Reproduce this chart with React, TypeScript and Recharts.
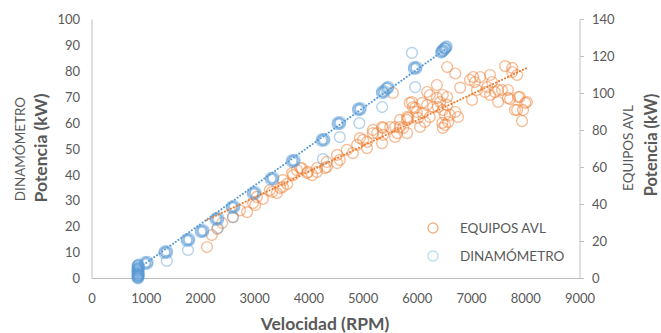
import React from "react";
import { ScatterChart, Scatter, XAxis, YAxis, Legend, Label } from "recharts";

const xTicks = [0, 1000, 2000, 3000, 4000, 5000, 6000, 7000, 8000, 9000];
const leftTicks = [0, 10, 20, 30, 40, 50, 60, 70, 80, 90, 100];
const rightTicks = [0, 20, 40, 60, 80, 100, 120, 140];

// EQUIPOS AVL readings: [rpm, kW] on the right axis
const equiposAvl: [number, number][] = [
  [2120, 17.0], [2210, 23.5], [2310, 26.8], [2400, 30.0], [2600, 33.2], [2730, 36.8],
  [2860, 35.9], [2970, 40.8], [3010, 39.7], [3040, 44.1], [3150, 43.0], [3280, 47.8],
  [3320, 46.8], [3410, 46.2], [3470, 48.9], [3520, 49.5], [3520, 53.2], [3600, 51.1],
  [3690, 57.0], [3710, 55.9], [3780, 58.6], [3840, 59.7], [3870, 59.7], [3970, 57.0],
  [3980, 57.6], [4060, 55.9], [4150, 59.7], [4150, 57.6], [4300, 59.7], [4330, 63.0],
  [4330, 60.3], [4520, 66.8], [4520, 62.4], [4570, 64.1], [4700, 69.5], [4810, 67.8],
  [4890, 72.2], [4940, 75.9], [5000, 74.9], [5070, 73.8], [5070, 70.5], [5180, 80.3],
  [5180, 78.6], [5260, 78.6], [5350, 81.9], [5350, 73.2], [5370, 81.4], [5370, 77.6],
  [5500, 81.9], [5550, 100.3], [5590, 81.9], [5590, 76.5], [5630, 78.6], [5680, 85.7],
  [5680, 81.9], [5740, 81.4], [5810, 87.3], [5810, 85.7], [5810, 78.6], [5830, 86.8],
  [5860, 94.9], [5900, 95.4], [5920, 92.7], [5960, 92.2], [5990, 90.0], [6010, 86.8],
  [6050, 81.9], [6090, 94.9], [6100, 89.5], [6140, 84.6], [6180, 100.8], [6180, 93.8],
  [6230, 99.2], [6230, 87.3], [6290, 92.7], [6360, 104.6], [6360, 97.6], [6380, 92.7],
  [6420, 95.4], [6460, 84.1], [6470, 99.2], [6470, 91.1], [6470, 81.4], [6510, 88.4],
  [6510, 83.0], [6550, 114.3], [6550, 98.1], [6550, 93.8], [6570, 84.6], [6600, 88.4],
  [6700, 110.8], [6700, 90.0], [6750, 87.3], [6790, 103.2], [6970, 107.3], [7010, 96.5],
  [7030, 108.9], [7060, 106.2], [7100, 101.9], [7160, 108.9], [7250, 100.8], [7290, 103.5],
  [7340, 110.0], [7340, 99.2], [7380, 106.2], [7430, 100.8], [7490, 101.9], [7490, 95.4],
  [7560, 101.9], [7620, 114.8], [7670, 101.9], [7670, 97.6], [7710, 97.0], [7750, 113.8],
  [7750, 111.6], [7800, 91.1], [7840, 110.0], [7840, 91.1], [7860, 98.1], [7890, 98.1],
  [7930, 85.1], [7950, 91.1], [7990, 94.9], [8020, 95.4],
];

// DINAMÓMETRO readings: [rpm, kW] on the left axis
// idle block plus the steady points, where several runs land almost on top of each other
const dinamometro: [number, number][] = [
  [845, 0.2], [855, 0.6], [840, 1.0], [860, 1.4], [850, 1.8], [838, 2.2], [862, 2.6],
  [848, 3.0], [856, 3.4], [842, 3.8], [858, 4.2], [850, 4.6], [845, 5.0], [855, 5.4],
  [850, 2.4], [850, 3.6], [852, 1.2], [848, 0.8], [835, 0.5], [865, 0.9], [835, 3.2],
  [865, 3.9], [840, 4.8], [860, 5.1], [850, 0.0], [845, 1.5], [855, 2.0], [845, 2.9],
  [1000, 6.0], [1025, 6.4], [975, 5.6], [1020, 5.7], [980, 6.3],
  [1360, 10.2], [1385, 10.6], [1335, 9.8], [1380, 9.9], [1340, 10.5],
  [1770, 14.9], [1795, 15.3], [1745, 14.5], [1790, 14.6], [1750, 15.2],
  [2030, 18.3], [2055, 18.7], [2005, 17.9], [2050, 18.0], [2010, 18.6],
  [2305, 23.0], [2330, 23.4], [2280, 22.6], [2325, 22.7], [2285, 23.3],
  [2600, 27.6], [2625, 28.0], [2575, 27.2], [2620, 27.3], [2580, 27.9],
  [2990, 33.0], [3015, 33.4], [2965, 32.6], [3010, 32.7], [2970, 33.3],
  [3320, 38.6], [3345, 39.0], [3295, 38.2], [3340, 38.3], [3300, 38.9],
  [3710, 45.4], [3735, 45.8], [3685, 45.0], [3730, 45.1], [3690, 45.7],
  [4260, 53.5], [4285, 53.9], [4235, 53.1], [4280, 53.2], [4240, 53.8],
  [4555, 60.0], [4580, 60.4], [4530, 59.6], [4575, 59.7], [4535, 60.3],
  [4930, 65.4], [4955, 65.8], [4905, 65.0], [4950, 65.1], [4910, 65.7],
  [5370, 72.0], [5395, 72.4], [5345, 71.6], [5390, 71.7], [5350, 72.3],
  [5440, 73.6], [5465, 74.0], [5420, 73.3], [5460, 73.4],
  [5960, 81.3], [5985, 81.7], [5935, 80.9], [5980, 81.0], [5940, 81.6],
  [6440, 87.2], [6470, 87.8], [6500, 88.6], [6530, 89.3], [6455, 87.5], [6515, 89.0],
  [6445, 87.7], [6485, 88.0], [6520, 88.8], [6540, 89.6], [6465, 88.3], [6495, 88.9],
  [1380, 6.8], [1770, 11.0], [2320, 19.5], [2600, 23.7], [4260, 46.1], [4570, 54.6],
  [4930, 60.0], [5350, 66.2], [5960, 73.9], [5900, 87.1],
];

// linear trend end points
const trendAvl: [number, number][] = [[2120, 31.6], [8020, 113.8]];
const trendDin: [number, number][] = [[850, 3.8], [6530, 88.7]];

const toPts = (arr: [number, number][]) => arr.map(([x, y]) => ({ x, y }));

const ORANGE = "#ed7d31";
const BLUE = "#5b9bd5";
const GREY = "#595959";
const AXIS = "#bfbfbf";
const FONT = "Lato, 'Open Sans', sans-serif";

const ring = (color: string, opacity: number) => (p: any) => (
  <circle cx={p.cx} cy={p.cy} r={5.4} fill="none" stroke={color} strokeOpacity={opacity} strokeWidth={1.4} />
);

const legendItems = [
  { name: "EQUIPOS AVL", color: ORANGE, opacity: 0.6 },
  { name: "DINAMÓMETRO", color: "#7cc3e0", opacity: 0.55 },
];

function ChartLegend() {
  return (
    <div style={{ fontFamily: FONT, fontSize: 13.5, color: GREY, whiteSpace: "nowrap" }}>
      {legendItems.map((it) => (
        <div key={it.name} style={{ display: "flex", alignItems: "center", height: 28 }}>
          <svg width={16} height={16} style={{ marginRight: 19, flex: "none" }}>
            <circle cx={8} cy={8} r={5} fill="none" stroke={it.color} strokeOpacity={it.opacity} strokeWidth={1.4} />
          </svg>
          <span>{it.name}</span>
        </div>
      ))}
    </div>
  );
}

const tickStyle = { fill: GREY, fontSize: 13, fontFamily: FONT };

export default function App() {
  return (
    <div style={{ position: "absolute", left: 0, top: 0, background: "#fff" }}>
      <ScatterChart width={661} height={333} margin={{ top: 19.5, right: 0, bottom: 0, left: 0 }}>
        <XAxis
          type="number"
          dataKey="x"
          domain={[0, 9000]}
          ticks={xTicks}
          interval={0}
          height={54.5}
          axisLine={{ stroke: AXIS }}
          tickLine={false}
          tickSize={6}
          tickMargin={9}
          tick={tickStyle}
        >
          <Label
            content={() => (
              <text x={325} y={323} textAnchor="middle" dominantBaseline="central" fill={GREY}
                fontFamily={FONT} fontSize={17.5} fontWeight="bold">
                Velocidad (RPM)
              </text>
            )}
          />
        </XAxis>
        <YAxis
          yAxisId="left"
          type="number"
          dataKey="y"
          domain={[0, 100]}
          ticks={leftTicks}
          interval={0}
          width={92}
          axisLine={{ stroke: AXIS }}
          tickLine={false}
          tickSize={6}
          tickMargin={6}
          tick={tickStyle}
        >
          <Label
            content={() => (
              <g fill={GREY} fontFamily={FONT}>
                <text transform="translate(20,149) rotate(-90)" textAnchor="middle" dominantBaseline="central" fontSize={13.5}>
                  DINAMÓMETRO
                </text>
                <text transform="translate(40,148) rotate(-90)" textAnchor="middle" dominantBaseline="central" fontSize={17.5} fontWeight="bold">
                  Potencia (kW)
                </text>
              </g>
            )}
          />
        </YAxis>
        <YAxis
          yAxisId="right"
          orientation="right"
          type="number"
          dataKey="y"
          domain={[0, 140]}
          ticks={rightTicks}
          interval={0}
          width={81}
          axisLine={{ stroke: AXIS }}
          tickLine={{ stroke: AXIS }}
          tickSize={4}
          tickMargin={8}
          tick={tickStyle}
        >
          <Label
            content={() => (
              <g fill={GREY} fontFamily={FONT}>
                <text transform="translate(628,148) rotate(-90)" textAnchor="middle" dominantBaseline="central" fontSize={13.5}>
                  EQUIPOS AVL
                </text>
                <text transform="translate(651,145) rotate(-90)" textAnchor="middle" dominantBaseline="central" fontSize={16.5} fontWeight="bold">
                  Potencia (kW)
                </text>
              </g>
            )}
          />
        </YAxis>
        {/* middle-aligned horizontal legend takes no room from the plot; wrapperStyle places it */}
        <Legend
          layout="horizontal"
          verticalAlign="middle"
          align="center"
          content={() => <ChartLegend />}
          wrapperStyle={{ left: 425, top: 214, width: 160 }}
        />
        <Scatter name="EQUIPOS AVL" yAxisId="right" data={toPts(equiposAvl)} shape={ring(ORANGE, 0.5)} isAnimationActive={false} />
        <Scatter name="DINAMÓMETRO" yAxisId="left" data={toPts(dinamometro)} shape={ring(BLUE, 0.45)} isAnimationActive={false} />
        <Scatter
          yAxisId="right"
          data={toPts(trendAvl)}
          legendType="none"
          line={{ stroke: ORANGE, strokeWidth: 2, strokeDasharray: "0.1 3.2", strokeLinecap: "round" }}
          shape={() => <g />}
          isAnimationActive={false}
        />
        <Scatter
          yAxisId="left"
          data={toPts(trendDin)}
          legendType="none"
          line={{ stroke: BLUE, strokeWidth: 2, strokeDasharray: "0.1 3.2", strokeLinecap: "round" }}
          shape={() => <g />}
          isAnimationActive={false}
        />
      </ScatterChart>
    </div>
  );
}
